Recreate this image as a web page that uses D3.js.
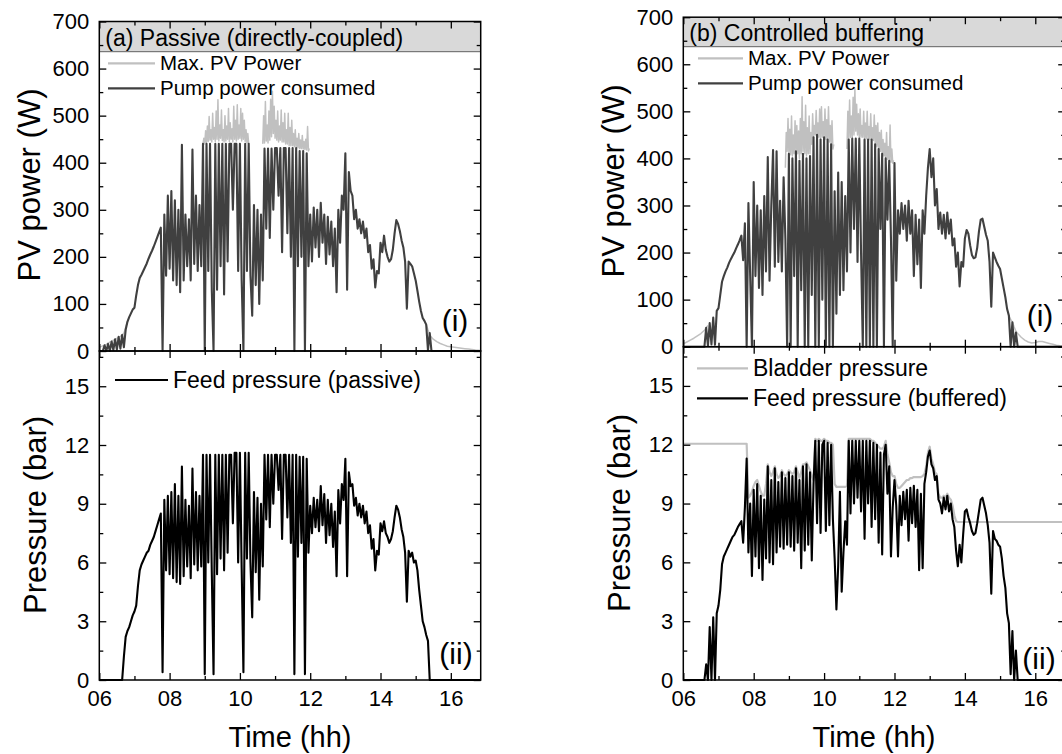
<!DOCTYPE html>
<html>
<head>
<meta charset="utf-8">
<script src="https://cdn.jsdelivr.net/npm/d3@7"></script>
<style>
  body { margin: 0; background: #fff; }
  svg { font-family: "Liberation Sans", Arial, sans-serif; }
</style>
</head>
<body>
<svg id="chart" width="1062" height="754"></svg>
<script>
// sample clock of the logged series: one value every 3 minutes from 06:00
const T_START = 6;
const T_STEP = 0.05;

const xMajorTicks = [6, 8, 10, 12, 14, 16];
const xMinorTicks = [7, 9, 11, 13, 15];
const powerTicks = [0, 100, 200, 300, 400, 500, 600, 700];
const powerMinorTicks = [50, 150, 250, 350, 450, 550, 650];
const pressureTicks = [0, 3, 6, 9, 12, 15];
const pressureMinorTicks = [1.5, 4.5, 7.5, 10.5, 13.5, 16.5];

// (a) passive - pump power consumed (W), one row per hour
const passivePump = [
  0, 0, 0, 12, 0, 15, 0, 20, 2, 25, 3, 30, 5, 34, 8, 45, 62, 72, 80, 88,
  92, 118, 140, 155, 162, 170, 178, 186, 196, 205, 213, 222, 232, 242, 252, 262, 0, 290, 160, 330,
  175, 340, 150, 320, 140, 300, 125, 438, 150, 290, 180, 280, 150, 428, 185, 330, 170, 310, 180, 440,
  0, 440, 170, 440, 130, 0, 440, 130, 440, 180, 440, 120, 440, 190, 440, 440, 300, 440, 440, 170,
  440, 150, 0, 440, 170, 440, 160, 75, 310, 140, 300, 100, 290, 150, 430, 260, 430, 240, 430, 300,
  431, 431, 330, 431, 210, 431, 431, 250, 431, 200, 431, 0, 431, 180, 425, 200, 425, 0, 420, 180,
  290, 190, 305, 220, 300, 200, 315, 230, 290, 185, 285, 205, 275, 180, 260, 125, 300, 230, 330, 300,
  420, 130, 380, 340, 330, 280, 300, 260, 280, 250, 275, 240, 260, 210, 225, 175, 195, 135, 170, 165,
  230, 210, 245, 215, 200, 190, 195, 215, 250, 278, 270, 255, 235, 220, 190, 90, 190, 185, 180, 165,
  150, 128, 105, 85, 70, 64, 56, 2, 38, 0, 0, 0, 0, 0, 0, 0, 0, 0, 0, 0,
  0, 0, 0, 0, 0, 0, 0, 0, 0, 0, 0, 0, 0, 0, 0, 0, 0, 0
];

// (a) passive - feed pressure (bar)
const passiveFeed = [
  0, 0, 0, 0, 0, 0, 0, 0, 0, 0, 0, 0, 0, 0, 1.2, 2.2, 2.5, 2.7, 3.0, 3.3,
  3.5, 3.8, 4.8, 5.6, 5.9, 6.1, 6.3, 6.5, 6.6, 6.9, 7.1, 7.3, 7.6, 7.9, 8.2, 8.5, 0.4, 9.2, 5.6, 9.4,
  5.4, 9.6, 5.2, 10.0, 5.0, 9.4, 4.9, 10.9, 5.3, 9.2, 5.8, 8.9, 5.2, 10.8, 5.9, 9.6, 5.6, 9.4, 5.8, 11.5,
  0.3, 11.5, 6.0, 11.5, 5.5, 0.3, 11.5, 5.4, 11.5, 6.2, 11.5, 5.6, 11.5, 6.5, 11.5, 11.5, 8.0, 11.6, 11.6, 6.0,
  11.6, 5.7, 0.4, 11.6, 6.2, 11.6, 6.0, 3.2, 9.6, 5.5, 9.3, 4.1, 9.0, 5.8, 11.5, 8.2, 11.5, 7.8, 11.5, 9.0,
  11.5, 11.5, 9.7, 11.5, 7.2, 11.5, 11.5, 8.3, 11.5, 7.0, 11.5, 0.3, 11.5, 6.3, 11.4, 7.0, 11.4, 0.3, 11.3, 6.5,
  8.9, 7.5, 9.3, 7.8, 9.2, 7.6, 9.9, 7.9, 9.5, 7.0, 9.2, 7.4, 9.0, 6.8, 8.6, 5.3, 9.7, 8.0, 10.0, 9.2,
  11.3, 5.3, 10.6, 9.9, 10.0, 8.9, 9.3, 8.4, 9.0, 8.3, 8.9, 8.0, 8.6, 7.5, 7.9, 6.7, 7.2, 5.6, 6.6, 6.4,
  8.0, 7.6, 8.1, 7.5, 7.3, 7.0, 7.2, 7.6, 8.3, 8.9, 8.7, 8.3, 7.7, 7.3, 6.5, 4.0, 6.6, 6.3, 6.5, 6.0,
  6.1, 5.6, 4.6, 3.8, 3.0, 2.7, 2.3, 2.0, 0, 0, 0, 0, 0, 0, 0, 0, 0, 0, 0, 0,
  0, 0, 0, 0, 0, 0, 0, 0, 0, 0, 0, 0, 0, 0, 0, 0, 0, 0
];

// (a) passive - max. PV power where it is not hidden by the pump trace: [time, W]
const maxPvPassiveDawn = [[6.0, 8], [6.1, 11], [6.2, 14], [6.3, 19], [6.4, 23], [6.5, 27], [6.6, 31], [6.7, 38], [6.8, 62]];
const maxPvPassiveMorning = [
  [8.95, 440], [8.975, 452], [9.0, 440], [9.025, 468], [9.05, 442], [9.075, 478], [9.1, 445], [9.125, 498],
  [9.15, 448], [9.175, 470], [9.2, 444], [9.225, 505], [9.25, 450], [9.275, 475], [9.3, 445], [9.325, 510],
  [9.35, 450], [9.375, 534], [9.4, 446], [9.425, 480], [9.45, 452], [9.475, 512], [9.5, 447], [9.525, 470],
  [9.55, 444], [9.575, 500], [9.6, 446], [9.625, 478], [9.65, 450], [9.675, 515], [9.7, 445], [9.725, 485],
  [9.75, 450], [9.775, 472], [9.8, 444], [9.825, 520], [9.85, 450], [9.875, 490], [9.9, 446], [9.925, 523],
  [9.95, 450], [9.975, 480], [10.0, 452], [10.025, 515], [10.05, 446], [10.075, 505], [10.1, 450], [10.125, 490],
  [10.15, 445], [10.175, 470], [10.2, 442], [10.225, 462], [10.25, 440]
];
const maxPvPassiveNoon = [
  [10.65, 440], [10.675, 500], [10.7, 442], [10.725, 530], [10.75, 446], [10.775, 480], [10.8, 442], [10.825, 510],
  [10.85, 448], [10.875, 535], [10.9, 455], [10.925, 552], [10.95, 462], [10.975, 520], [11.0, 452], [11.025, 490],
  [11.05, 448], [11.075, 510], [11.1, 444], [11.125, 478], [11.15, 448], [11.175, 512], [11.2, 444], [11.225, 485],
  [11.25, 444], [11.275, 505], [11.3, 440], [11.325, 470], [11.35, 440], [11.375, 505], [11.4, 436], [11.425, 475],
  [11.45, 436], [11.475, 490], [11.5, 436], [11.525, 462], [11.55, 434], [11.575, 470], [11.6, 434], [11.625, 452],
  [11.65, 432], [11.675, 462], [11.7, 430], [11.725, 448], [11.75, 430], [11.775, 458], [11.8, 429], [11.825, 445],
  [11.85, 428], [11.875, 450], [11.9, 427], [11.925, 477], [11.95, 425], [11.975, 430]
];
const maxPvPassiveDusk = [
  [15.3, 56], [15.35, 45], [15.4, 35], [15.45, 29], [15.5, 25], [15.6, 20], [15.7, 16], [15.8, 13], [15.9, 10],
  [16.0, 9], [16.1, 8], [16.2, 7], [16.3, 6], [16.4, 5], [16.5, 4], [16.6, 3], [16.7, 2], [16.85, 1]
];

// (b) controlled buffering - pump power consumed (W)
const bufferedPump = [
  0, 0, 0, 0, 0, 0, 0, 0, 0, 0, 0, 0, 0, 40, 2, 50, 5, 62, 4, 76,
  82, 110, 138, 150, 160, 168, 178, 186, 193, 200, 209, 217, 226, 236, 184, 262, 0, 305, 150, 0,
  350, 150, 300, 125, 290, 110, 320, 160, 403, 140, 300, 418, 170, 415, 180, 310, 160, 360, 230, 0,
  410, 0, 400, 150, 415, 0, 395, 120, 410, 0, 400, 0, 405, 110, 445, 0, 450, 0, 440, 100,
  445, 0, 440, 0, 430, 0, 330, 70, 370, 110, 350, 120, 320, 160, 440, 200, 442, 250, 442, 180,
  442, 200, 0, 440, 0, 440, 0, 440, 0, 430, 0, 420, 250, 410, 0, 400, 270, 395, 230, 0,
  390, 140, 290, 240, 305, 250, 300, 225, 310, 240, 290, 150, 280, 175, 270, 125, 290, 240, 320, 380,
  420, 360, 400, 300, 335, 250, 285, 240, 280, 230, 285, 240, 270, 215, 230, 170, 200, 128, 180, 170,
  230, 248, 240, 215, 195, 188, 190, 210, 245, 270, 272, 255, 238, 225, 180, 85, 200, 190, 180, 172,
  165, 145, 125, 105, 80, 66, 0, 52, 0, 30, 0, 0, 0, 0, 0, 0, 0, 0, 0, 0,
  0, 0, 0, 0, 0, 0, 0, 0, 0, 0, 0, 0, 0, 0, 0, 0, 0, 0
];

// (b) controlled buffering - feed pressure (bar)
const bufferedFeed = [
  0, 0, 0, 0, 0, 0, 0, 0, 0, 0, 0, 0, 0, 0.8, 0, 2.7, 0, 3.2, 0, 3.4,
  3.8, 4.6, 5.9, 6.3, 6.5, 6.7, 6.9, 7.1, 7.3, 7.4, 7.6, 7.8, 7.95, 8.1, 7.0, 8.8, 11.3, 6.5, 9.0, 5.3,
  9.7, 6.3, 10.0, 5.7, 9.4, 5.1, 9.2, 6.2, 10.9, 6.0, 10.2, 5.9, 10.8, 6.5, 10.1, 6.8, 10.6, 6.7, 10.3, 6.9,
  10.6, 6.8, 10.4, 6.6, 10.8, 7.0, 10.2, 5.7, 10.9, 6.6, 11.0, 6.9, 10.6, 6.1, 10.0, 12.2, 8.0, 12.2, 7.5, 12.0,
  12.2, 7.6, 12.1, 7.9, 12.0, 8.2, 6.2, 3.6, 5.8, 9.6, 4.5, 6.5, 8.1, 6.9, 12.2, 8.5, 12.2, 9.0, 12.2, 9.3,
  12.2, 8.6, 12.2, 7.2, 12.2, 9.0, 12.2, 7.8, 12.1, 8.2, 12.0, 7.0, 11.6, 6.4, 11.5, 12.0, 9.5, 10.9, 6.3, 8.8,
  10.2, 8.9, 6.3, 9.4, 7.9, 9.6, 8.2, 9.7, 7.1, 9.8, 8.0, 9.9, 7.8, 9.7, 5.6, 9.5, 5.7, 10.0, 10.6, 11.4,
  11.7, 11.0, 10.8, 10.2, 10.4, 9.2, 9.0, 8.5, 9.3, 8.7, 9.4, 8.6, 9.0, 8.2, 7.8, 6.6, 5.8, 6.9, 6.0, 7.4,
  8.6, 8.7, 8.3, 8.0, 7.6, 7.4, 7.5, 8.0, 8.6, 9.2, 9.3, 8.9, 8.5, 7.9, 7.0, 4.4, 7.6, 7.2, 7.1, 6.9,
  6.8, 6.2, 5.3, 4.7, 3.4, 2.9, 0.3, 2.5, 0, 1.5, 0, 0, 0, 0, 0, 0, 0, 0, 0, 0,
  0, 0, 0, 0, 0, 0, 0, 0, 0, 0, 0, 0, 0, 0, 0, 0, 0, 0
];

// (b) controlled buffering - bladder pressure (bar)
const bladderPressure = [
  12.05, 12.05, 12.05, 12.05, 12.05, 12.05, 12.05, 12.05, 12.05, 12.05, 12.05, 12.05, 12.05, 12.05, 12.05, 12.05, 12.05, 12.05, 12.05, 12.05,
  12.05, 12.05, 12.05, 12.05, 12.05, 12.05, 12.05, 12.05, 12.05, 12.05, 12.05, 12.05, 12.05, 12.05, 12.05, 12.05, 12.05, 9.3, 9.4, 9.6,
  9.9, 10.1, 10.2, 9.9, 9.6, 9.4, 9.4, 10.0, 11.0, 10.6, 10.4, 10.6, 10.9, 10.5, 10.3, 10.4, 10.7, 10.5, 10.4, 10.5,
  10.7, 10.6, 10.5, 10.6, 10.9, 10.6, 10.3, 10.6, 11.0, 11.0, 11.1, 10.9, 10.7, 10.4, 10.2, 12.3, 12.2, 12.3, 12.2, 12.2,
  12.3, 12.2, 12.2, 12.1, 12.1, 12.0, 10.0, 9.85, 9.85, 9.85, 9.85, 9.85, 9.85, 9.9, 12.3, 12.3, 12.3, 12.3, 12.3, 12.3,
  12.3, 12.3, 12.3, 12.3, 12.3, 12.3, 12.3, 12.2, 12.2, 12.1, 12.0, 11.9, 11.8, 11.8, 11.9, 12.2, 11.5, 11.1, 10.6, 10.4,
  10.4, 10.0, 9.8, 9.8, 9.9, 10.0, 10.1, 10.2, 10.2, 10.3, 10.3, 10.35, 10.35, 10.35, 10.35, 10.35, 10.4, 10.5, 10.9, 11.6,
  11.9, 11.3, 11.0, 10.6, 10.5, 9.5, 9.3, 9.3, 9.4, 9.3, 9.5, 9.3, 9.2, 8.9, 8.4, 8.1, 8.06, 8.06, 8.06, 8.06,
  8.06, 8.06, 8.06, 8.06, 8.06, 8.06, 8.06, 8.06, 8.06, 8.06, 8.06, 8.06, 8.06, 8.06, 8.06, 8.06, 8.06, 8.06, 8.06, 8.06,
  8.06, 8.06, 8.06, 8.06, 8.06, 8.06, 8.06, 8.06, 8.06, 8.06, 8.06, 8.06, 8.06, 8.06, 8.06, 8.06, 8.06, 8.06, 8.06, 8.06,
  8.06, 8.06, 8.06, 8.06, 8.06, 8.06, 8.06, 8.06, 8.06, 8.06, 8.06, 8.06, 8.06, 8.06, 8.06, 8.06, 8.06, 8.06
];

// (b) controlled buffering - max. PV power where it shows above the pump trace: [time, W]
const maxPvBufferedDawn = [[6.0, 6], [6.1, 10], [6.2, 14], [6.3, 18], [6.4, 23], [6.5, 28], [6.6, 35], [6.7, 45]];
const maxPvBufferedMorning = [
  [8.9, 380], [8.925, 455], [8.95, 415], [8.975, 485], [9.0, 412], [9.025, 462], [9.05, 408], [9.075, 490],
  [9.1, 405], [9.125, 450], [9.15, 410], [9.175, 480], [9.2, 415], [9.225, 470], [9.25, 410], [9.275, 458],
  [9.3, 400], [9.325, 485], [9.35, 410], [9.375, 531], [9.4, 415], [9.425, 478], [9.45, 410], [9.475, 513],
  [9.5, 405], [9.525, 465], [9.55, 410], [9.575, 490], [9.6, 410], [9.625, 455], [9.65, 430], [9.675, 495],
  [9.7, 445], [9.725, 470], [9.75, 450], [9.775, 502], [9.8, 450], [9.825, 475], [9.85, 445], [9.875, 505],
  [9.9, 440], [9.925, 510], [9.95, 445], [9.975, 478], [10.0, 445], [10.025, 505], [10.05, 440], [10.075, 482],
  [10.1, 440], [10.125, 510], [10.15, 435], [10.175, 470], [10.2, 430], [10.225, 480], [10.25, 420], [10.275, 430]
];
const maxPvBufferedNoon = [
  [10.65, 420], [10.675, 500], [10.7, 442], [10.725, 524], [10.75, 445], [10.775, 490], [10.8, 445], [10.825, 530],
  [10.85, 450], [10.875, 548], [10.9, 458], [10.925, 515], [10.95, 450], [10.975, 495], [11.0, 445], [11.025, 505],
  [11.05, 445], [11.075, 470], [11.1, 445], [11.125, 500], [11.15, 442], [11.175, 475], [11.2, 442], [11.225, 500],
  [11.25, 442], [11.275, 468], [11.3, 440], [11.325, 495], [11.35, 440], [11.375, 465], [11.4, 438], [11.425, 492],
  [11.45, 432], [11.475, 470], [11.5, 425], [11.525, 475], [11.55, 420], [11.575, 455], [11.6, 415], [11.625, 460],
  [11.65, 410], [11.675, 440], [11.7, 405], [11.725, 432], [11.75, 400], [11.775, 455], [11.8, 398], [11.825, 425],
  [11.85, 395], [11.875, 471], [11.9, 392], [11.925, 420], [11.95, 390], [11.975, 396]
];
const maxPvBufferedDusk = [
  [15.25, 66], [15.3, 58], [15.35, 52], [15.4, 42], [15.45, 33], [15.5, 28], [15.6, 20], [15.7, 14], [15.8, 10],
  [15.9, 8], [16.0, 9], [16.1, 11], [16.2, 11], [16.3, 9], [16.4, 7], [16.5, 5], [16.6, 3], [16.7, 2], [16.85, 1]
];

const timeGrid = d3.range(passivePump.length).map(i => T_START + i * T_STEP);

const LIGHT = "#c0c0c0";
const DARK = "#404040";
const BLACK = "#000000";

const svg = d3.select("#chart");
svg.append("rect").attr("width", 1062).attr("height", 754).attr("fill", "#fff");

function styleAxis(g) {
    g.select(".domain").remove();
    g.attr("font-family", null).attr("font-size", 22);
    g.selectAll("line").attr("stroke", "#000").attr("stroke-width", 1.3);
    g.selectAll("text").attr("fill", "#000");
}

function drawPanel(opt) {
    const x = d3.scaleLinear().domain([6, 16.85]).range([opt.left, opt.right]);
    const y = d3.scaleLinear().domain(opt.yDomain).range([opt.bottom, opt.top]);
    const g = svg.append("g");

    const line = d3.line()
        .x(d => x(d[0]))
        .y(d => y(d[1]));

    if (opt.title) {
        g.append("rect")
            .attr("x", opt.left)
            .attr("y", opt.top)
            .attr("width", opt.right - opt.left)
            .attr("height", opt.bandHeight)
            .attr("fill", "#d9d9d9");
        g.append("line")
            .attr("x1", opt.left).attr("x2", opt.right)
            .attr("y1", opt.top + opt.bandHeight).attr("y2", opt.top + opt.bandHeight)
            .attr("stroke", "#606060")
            .attr("stroke-width", 1);
        g.append("text")
            .attr("x", opt.left + 6)
            .attr("y", opt.top + opt.bandHeight - 5.5)
            .attr("font-size", 23)
            .attr("fill", "#000")
            .text(opt.title);
    }

    opt.series.forEach(s => {
        const parts = s.values
            ? [s.values.map((v, i) => [timeGrid[i], v])]
            : s.segments;
        parts.forEach(pts => {
            g.append("path")
                .datum(pts)
                .attr("fill", "none")
                .attr("stroke", s.color)
                .attr("stroke-width", s.width)
                .attr("stroke-linejoin", "round")
                .attr("d", line);
        });
    });

    // inward ticks on all four sides
    g.append("g").attr("transform", `translate(${opt.left},0)`)
        .call(d3.axisLeft(y).tickValues(opt.yTicks).tickSize(-7).tickPadding(10))
        .call(styleAxis);
    g.append("g").attr("transform", `translate(${opt.left},0)`)
        .call(d3.axisLeft(y).tickValues(opt.yMinor).tickSize(-4).tickFormat(""))
        .call(styleAxis);
    g.append("g").attr("transform", `translate(${opt.right},0)`)
        .call(d3.axisRight(y).tickValues(opt.yTicks).tickSize(-7).tickFormat(""))
        .call(styleAxis);
    g.append("g").attr("transform", `translate(${opt.right},0)`)
        .call(d3.axisRight(y).tickValues(opt.yMinor).tickSize(-4).tickFormat(""))
        .call(styleAxis);

    g.append("g").attr("transform", `translate(0,${opt.bottom})`)
        .call(d3.axisBottom(x).tickValues(xMajorTicks).tickSize(-7).tickPadding(10)
            .tickFormat(d => opt.xLabels ? String(d).padStart(2, "0") : ""))
        .call(styleAxis);
    g.append("g").attr("transform", `translate(0,${opt.bottom})`)
        .call(d3.axisBottom(x).tickValues(xMinorTicks).tickSize(-4).tickFormat(""))
        .call(styleAxis);
    g.append("g").attr("transform", `translate(0,${opt.top})`)
        .call(d3.axisTop(x).tickValues(xMajorTicks).tickSize(-7).tickFormat(""))
        .call(styleAxis);
    g.append("g").attr("transform", `translate(0,${opt.top})`)
        .call(d3.axisTop(x).tickValues(xMinorTicks).tickSize(-4).tickFormat(""))
        .call(styleAxis);

    g.append("rect")
        .attr("x", opt.left)
        .attr("y", opt.top)
        .attr("width", opt.right - opt.left)
        .attr("height", opt.bottom - opt.top)
        .attr("fill", "none")
        .attr("stroke", "#000")
        .attr("stroke-width", 1.5);

    opt.legend.forEach((item, i) => {
        const ly = opt.legendY + i * opt.legendGap;
        g.append("line")
            .attr("x1", opt.legendX).attr("x2", opt.legendX + opt.legendLen)
            .attr("y1", ly).attr("y2", ly)
            .attr("stroke", item.color)
            .attr("stroke-width", 2.2);
        g.append("text")
            .attr("x", opt.legendX + opt.legendLen + 5)
            .attr("y", ly)
            .attr("dy", "0.35em")
            .attr("font-size", opt.legendSize)
            .attr("fill", "#000")
            .text(item.label);
    });

    g.append("text")
        .attr("x", opt.tagX)
        .attr("y", opt.tagY)
        .attr("text-anchor", "middle")
        .attr("font-size", 30)
        .attr("fill", "#000")
        .text(opt.tag);
}

function axisTitle(text, x, y, rotate, size) {
    svg.append("text")
        .attr("transform", `translate(${x},${y})` + (rotate ? " rotate(-90)" : ""))
        .attr("text-anchor", "middle")
        .attr("font-size", size)
        .attr("fill", "#000")
        .text(text);
}

// (a) passive, power
drawPanel({
    left: 99.3, right: 480.7, top: 21.5, bottom: 351,
    yDomain: [0, 700], yTicks: powerTicks, yMinor: powerMinorTicks,
    xLabels: false,
    title: "(a) Passive (directly-coupled)", bandHeight: 30.2,
    series: [
        { segments: [maxPvPassiveDawn, maxPvPassiveMorning, maxPvPassiveNoon, maxPvPassiveDusk], color: LIGHT, width: 1.5 },
        { values: passivePump, color: DARK, width: 2.1 }
    ],
    legend: [
        { label: "Max. PV Power", color: LIGHT },
        { label: "Pump power consumed", color: DARK }
    ],
    legendX: 108, legendY: 63.3, legendGap: 25, legendLen: 47, legendSize: 20.5,
    tag: "(i)", tagX: 455, tagY: 330.5
});

// (a) passive, pressure
drawPanel({
    left: 99.3, right: 480.7, top: 351, bottom: 680,
    yDomain: [0, 16.8], yTicks: pressureTicks, yMinor: pressureMinorTicks,
    xLabels: true,
    series: [
        { values: passiveFeed, color: BLACK, width: 2.1 }
    ],
    legend: [
        { label: "Feed pressure (passive)", color: BLACK }
    ],
    legendX: 115, legendY: 380, legendGap: 30, legendLen: 53, legendSize: 23,
    tag: "(ii)", tagX: 456, tagY: 664
});

// (b) controlled buffering, power
drawPanel({
    left: 683.3, right: 1065.2, top: 17.2, bottom: 346.7,
    yDomain: [0, 700], yTicks: powerTicks, yMinor: powerMinorTicks,
    xLabels: false,
    title: "(b) Controlled buffering", bandHeight: 29.5,
    series: [
        { segments: [maxPvBufferedDawn, maxPvBufferedMorning, maxPvBufferedNoon, maxPvBufferedDusk], color: LIGHT, width: 1.5 },
        { values: bufferedPump, color: DARK, width: 2.1 }
    ],
    legend: [
        { label: "Max. PV Power", color: LIGHT },
        { label: "Pump power consumed", color: DARK }
    ],
    legendX: 698, legendY: 58.3, legendGap: 25, legendLen: 45, legendSize: 20.5,
    tag: "(i)", tagX: 1040, tagY: 325.5
});

// (b) controlled buffering, pressure
drawPanel({
    left: 683.3, right: 1065.2, top: 346.7, bottom: 680,
    yDomain: [0, 17], yTicks: pressureTicks, yMinor: pressureMinorTicks,
    xLabels: true,
    series: [
        { values: bladderPressure, color: LIGHT, width: 2.2 },
        { values: bufferedFeed, color: BLACK, width: 2.1 }
    ],
    legend: [
        { label: "Bladder pressure", color: LIGHT },
        { label: "Feed pressure (buffered)", color: BLACK }
    ],
    legendX: 697, legendY: 368.3, legendGap: 30, legendLen: 51, legendSize: 23,
    tag: "(ii)", tagX: 1039, tagY: 668.7
});

axisTitle("PV power (W)", 40, 185, true, 31);
axisTitle("Pressure (bar)", 46, 515, true, 31);
axisTitle("Time (hh)", 290, 747, false, 29);
axisTitle("PV power (W)", 624, 181, true, 31);
axisTitle("Pressure (bar)", 630, 513, true, 31);
axisTitle("Time (hh)", 874, 747, false, 29);
</script>
</body>
</html>
